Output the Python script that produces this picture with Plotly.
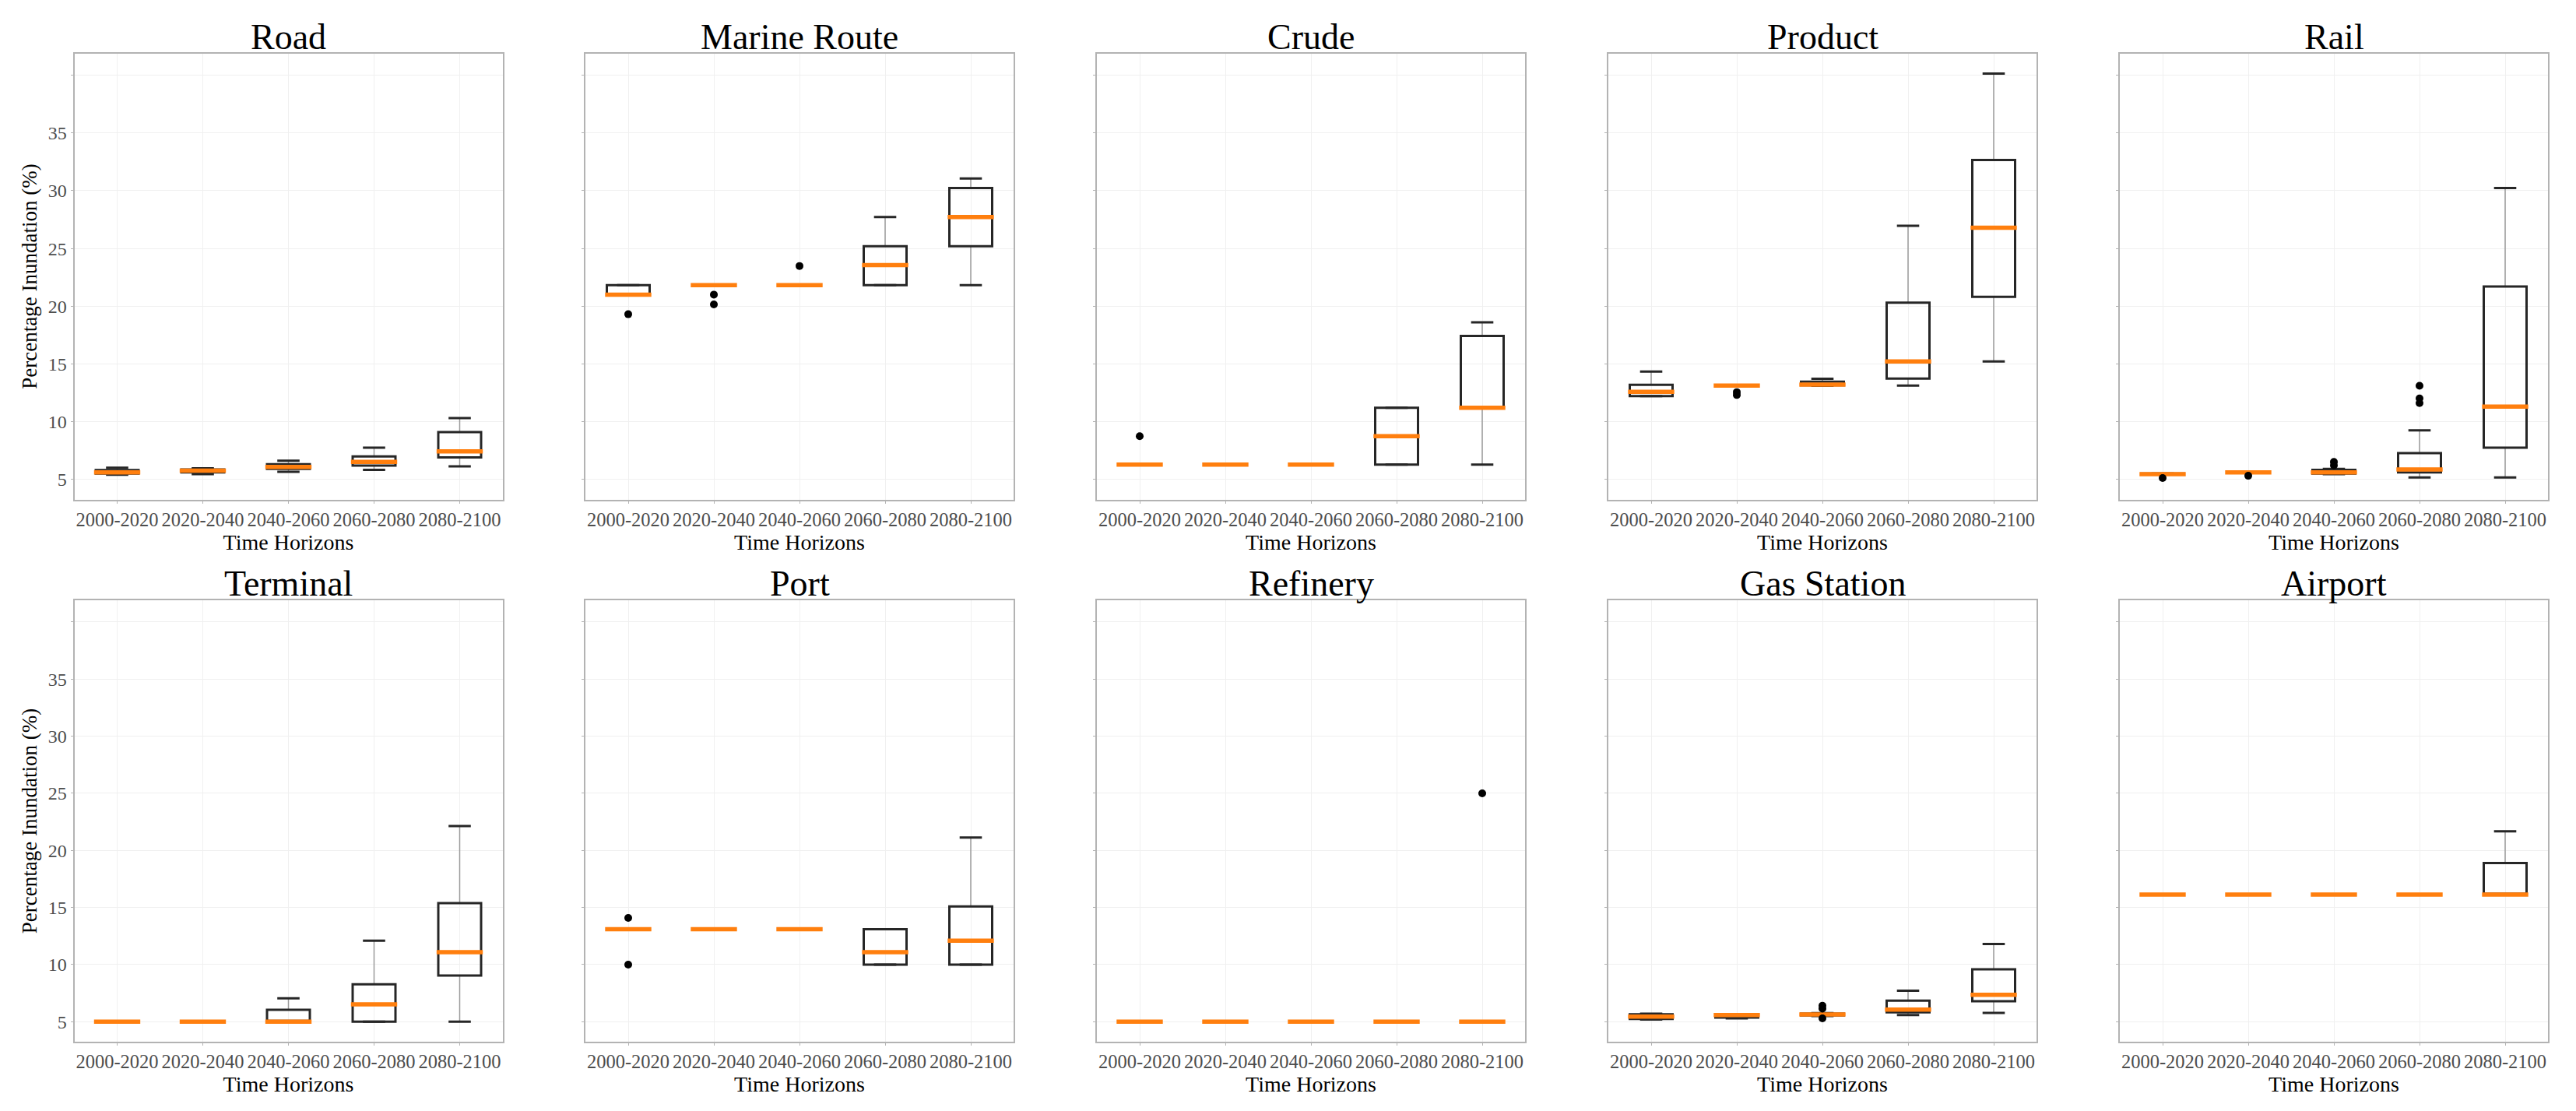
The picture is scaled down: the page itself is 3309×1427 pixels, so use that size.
import plotly.graph_objects as go

HORIZONS = ["2000-2020", "2020-2040", "2040-2060", "2060-2080", "2080-2100"]
PANELS = ["Road", "Marine Route", "Crude", "Product", "Rail",
          "Terminal", "Port", "Refinery", "Gas Station", "Airport"]
Y_TICKS = [5, 10, 15, 20, 25, 30, 35, 40]
Y_TICK_TEXT = ["5", "10", "15", "20", "25", "30", "35", ""]

# ---- Road
ROAD_LOW = [5.40, 5.45, 5.64, 5.82, 6.12]
ROAD_Q1 = [5.50, 5.60, 5.90, 6.18, 6.90]
ROAD_MED = [5.60, 5.75, 6.06, 6.50, 7.42]
ROAD_Q3 = [5.80, 5.85, 6.30, 6.97, 9.09]
ROAD_HIGH = [6.00, 5.95, 6.60, 7.73, 10.30]
ROAD_OUT_X = []
ROAD_OUT_Y = []

# ---- Marine Route
MARINE_LOW = [21.00, 21.82, 21.82, 21.82, 21.82]
MARINE_Q1 = [21.00, 21.82, 21.82, 21.82, 25.20]
MARINE_MED = [21.00, 21.82, 21.82, 23.55, 27.73]
MARINE_Q3 = [21.82, 21.82, 21.82, 25.20, 30.24]
MARINE_HIGH = [21.82, 21.82, 21.82, 27.73, 31.06]
MARINE_OUT_X = ["2000-2020", "2020-2040", "2020-2040", "2040-2060"]
MARINE_OUT_Y = [19.30, 21.00, 20.15, 23.48]

# ---- Crude
CRUDE_LOW = [6.27, 6.27, 6.27, 6.27, 6.27]
CRUDE_Q1 = [6.27, 6.27, 6.27, 6.27, 11.20]
CRUDE_MED = [6.27, 6.27, 6.27, 8.73, 11.20]
CRUDE_Q3 = [6.27, 6.27, 6.27, 11.20, 17.42]
CRUDE_HIGH = [6.27, 6.27, 6.27, 11.20, 18.60]
CRUDE_OUT_X = ["2000-2020"]
CRUDE_OUT_Y = [8.73]

# ---- Product
PRODUCT_LOW = [12.20, 13.12, 13.10, 13.12, 15.20]
PRODUCT_Q1 = [12.20, 13.12, 13.15, 13.73, 20.80]
PRODUCT_MED = [12.58, 13.12, 13.20, 15.20, 26.80]
PRODUCT_Q3 = [13.18, 13.12, 13.45, 20.30, 32.67]
PRODUCT_HIGH = [14.33, 13.12, 13.70, 26.97, 40.15]
PRODUCT_OUT_X = ["2020-2040", "2020-2040"]
PRODUCT_OUT_Y = [12.30, 12.55]

# ---- Rail
RAIL_LOW = [5.45, 5.60, 5.45, 5.15, 5.15]
RAIL_Q1 = [5.45, 5.60, 5.50, 5.60, 7.73]
RAIL_MED = [5.45, 5.60, 5.60, 5.85, 11.30]
RAIL_Q3 = [5.50, 5.60, 5.82, 7.27, 21.70]
RAIL_HIGH = [5.50, 5.60, 5.90, 9.24, 30.24]
RAIL_OUT_X = ["2000-2020", "2020-2040", "2040-2060", "2040-2060",
              "2060-2080", "2060-2080", "2060-2080"]
RAIL_OUT_Y = [5.10, 5.30, 6.20, 6.50, 11.60, 12.00, 13.10]

# ---- Terminal
TERMINAL_LOW = [5.00, 5.00, 5.00, 5.00, 5.00]
TERMINAL_Q1 = [5.00, 5.00, 5.00, 5.00, 9.04]
TERMINAL_MED = [5.00, 5.00, 5.00, 6.53, 11.09]
TERMINAL_Q3 = [5.00, 5.00, 6.04, 8.28, 15.38]
TERMINAL_HIGH = [5.00, 5.00, 7.05, 12.10, 22.14]
TERMINAL_OUT_X = []
TERMINAL_OUT_Y = []

# ---- Port
PORT_LOW = [13.10, 13.10, 13.10, 10.00, 10.00]
PORT_Q1 = [13.10, 13.10, 13.10, 10.00, 10.00]
PORT_MED = [13.10, 13.10, 13.10, 11.09, 12.10]
PORT_Q3 = [13.10, 13.10, 13.10, 13.10, 15.10]
PORT_HIGH = [13.10, 13.10, 13.10, 13.10, 21.13]
PORT_OUT_X = ["2000-2020", "2000-2020"]
PORT_OUT_Y = [14.09, 10.00]

# ---- Refinery
REFINERY_LOW = [5.00, 5.00, 5.00, 5.00, 5.00]
REFINERY_Q1 = [5.00, 5.00, 5.00, 5.00, 5.00]
REFINERY_MED = [5.00, 5.00, 5.00, 5.00, 5.00]
REFINERY_Q3 = [5.00, 5.00, 5.00, 5.00, 5.00]
REFINERY_HIGH = [5.00, 5.00, 5.00, 5.00, 5.00]
REFINERY_OUT_X = ["2080-2100"]
REFINERY_OUT_Y = [25.00]

# ---- Gas Station
GAS_LOW = [5.20, 5.30, 5.50, 5.58, 5.77]
GAS_Q1 = [5.25, 5.37, 5.55, 5.83, 6.80]
GAS_MED = [5.45, 5.58, 5.64, 6.07, 7.36]
GAS_Q3 = [5.65, 5.60, 5.70, 6.84, 9.59]
GAS_HIGH = [5.70, 5.65, 5.75, 7.72, 11.80]
GAS_OUT_X = ["2040-2060", "2040-2060", "2040-2060"]
GAS_OUT_Y = [6.40, 6.15, 5.30]

# ---- Airport
AIRPORT_LOW = [16.14, 16.14, 16.14, 16.14, 16.14]
AIRPORT_Q1 = [16.14, 16.14, 16.14, 16.14, 16.14]
AIRPORT_MED = [16.14, 16.14, 16.14, 16.14, 16.14]
AIRPORT_Q3 = [16.14, 16.14, 16.14, 16.14, 18.90]
AIRPORT_HIGH = [16.14, 16.14, 16.14, 16.14, 21.68]
AIRPORT_OUT_X = []
AIRPORT_OUT_Y = []

PANEL_DATA = [
    (ROAD_LOW, ROAD_Q1, ROAD_MED, ROAD_Q3, ROAD_HIGH, ROAD_OUT_X, ROAD_OUT_Y),
    (MARINE_LOW, MARINE_Q1, MARINE_MED, MARINE_Q3, MARINE_HIGH, MARINE_OUT_X, MARINE_OUT_Y),
    (CRUDE_LOW, CRUDE_Q1, CRUDE_MED, CRUDE_Q3, CRUDE_HIGH, CRUDE_OUT_X, CRUDE_OUT_Y),
    (PRODUCT_LOW, PRODUCT_Q1, PRODUCT_MED, PRODUCT_Q3, PRODUCT_HIGH, PRODUCT_OUT_X, PRODUCT_OUT_Y),
    (RAIL_LOW, RAIL_Q1, RAIL_MED, RAIL_Q3, RAIL_HIGH, RAIL_OUT_X, RAIL_OUT_Y),
    (TERMINAL_LOW, TERMINAL_Q1, TERMINAL_MED, TERMINAL_Q3, TERMINAL_HIGH, TERMINAL_OUT_X, TERMINAL_OUT_Y),
    (PORT_LOW, PORT_Q1, PORT_MED, PORT_Q3, PORT_HIGH, PORT_OUT_X, PORT_OUT_Y),
    (REFINERY_LOW, REFINERY_Q1, REFINERY_MED, REFINERY_Q3, REFINERY_HIGH, REFINERY_OUT_X, REFINERY_OUT_Y),
    (GAS_LOW, GAS_Q1, GAS_MED, GAS_Q3, GAS_HIGH, GAS_OUT_X, GAS_OUT_Y),
    (AIRPORT_LOW, AIRPORT_Q1, AIRPORT_MED, AIRPORT_Q3, AIRPORT_HIGH, AIRPORT_OUT_X, AIRPORT_OUT_Y),
]

# ---------------- layout geometry (pixels) ----------------
W, H = 3309, 1427
COL_LEFT = [87.5, 744, 1401, 2058, 2715]
PANEL_W = 550
ROW_TOP = [60.6, 763]
ROW_BOTTOM = [633.5, 1330]

FONT = "Liberation Serif, Times New Roman, serif"
BOX_LINE = "#262626"
WHISKER = "#9a9a9a"
ORANGE = "#ff7f0e"
BORDER = "#b3b3b3"
GRID = "#f0f0f0"

fig = go.Figure()
layout_axes = {}
annotations = []

for i, (low, q1, med, q3, high, out_x, out_y) in enumerate(PANEL_DATA):
    row, col = divmod(i, 5)
    sfx = "" if i == 0 else str(i + 1)
    xa, ya = "x" + sfx, "y" + sfx
    common = dict(xaxis=xa, yaxis=ya, showlegend=False, hoverinfo="skip",
                  boxpoints=False, fillcolor="rgba(0,0,0,0)")

    # whiskers (thin grey), no caps
    fig.add_trace(go.Box(x=HORIZONS, q1=q1, median=med, q3=q3,
                         lowerfence=low, upperfence=high, width=0.5,
                         whiskerwidth=0, line=dict(color=WHISKER, width=1.5),
                         **common))
    # box body (black)
    fig.add_trace(go.Box(x=HORIZONS, q1=q1, median=med, q3=q3,
                         lowerfence=q1, upperfence=q3, width=0.5,
                         whiskerwidth=0, line=dict(color=BOX_LINE, width=3),
                         **common))
    # whisker caps
    for fence in (high, low):
        fig.add_trace(go.Box(x=HORIZONS, q1=fence, median=fence, q3=fence,
                             lowerfence=fence, upperfence=fence, width=0.26,
                             whiskerwidth=0, line=dict(color=BOX_LINE, width=3),
                             **common))
    # median (orange)
    fig.add_trace(go.Box(x=HORIZONS, q1=med, median=med, q3=med,
                         lowerfence=med, upperfence=med, width=0.54,
                         whiskerwidth=0, line=dict(color=ORANGE, width=5.5),
                         **common))
    # outliers
    if out_x:
        fig.add_trace(go.Scatter(x=out_x, y=out_y, mode="markers",
                                 marker=dict(color="black", size=10),
                                 xaxis=xa, yaxis=ya, showlegend=False,
                                 hoverinfo="skip"))

    x0 = COL_LEFT[col] / W
    x1 = (COL_LEFT[col] + PANEL_W) / W
    y1 = 1 - ROW_TOP[row] / H
    y0 = 1 - ROW_BOTTOM[row] / H

    layout_axes["xaxis" + sfx] = dict(
        domain=[x0, x1], anchor=ya, type="category",
        categoryorder="array", categoryarray=HORIZONS,
        range=[-0.5, 4.5], showgrid=True, gridcolor=GRID, gridwidth=1,
        showline=True, mirror=True, linecolor=BORDER, linewidth=2,
        ticks="outside", ticklen=3, tickcolor=BORDER,
        tickfont=dict(family=FONT, size=24.5, color="#4d4d4d"),
        title=dict(text="Time Horizons", font=dict(family=FONT, size=28, color="black"),
                   standoff=0),
        zeroline=False, automargin=False, fixedrange=True,
    )
    layout_axes["yaxis" + sfx] = dict(
        domain=[y0, y1], anchor=xa, range=[3.25, 41.9],
        tickmode="array", tickvals=Y_TICKS, ticktext=Y_TICK_TEXT,
        showticklabels=(col == 0), showgrid=True, gridcolor=GRID, gridwidth=1,
        showline=True, mirror=True, linecolor=BORDER, linewidth=2,
        ticks="outside", ticklen=3, tickcolor=BORDER,
        tickfont=dict(family=FONT, size=24, color="#4d4d4d"),
        title=dict(text="Percentage Inundation (%)" if col == 0 else "",
                   font=dict(family=FONT, size=27, color="black"), standoff=6),
        zeroline=False, automargin=False, fixedrange=True,
    )
    annotations.append(dict(
        text=PANELS[i], x=(x0 + x1) / 2, y=y1, xref="paper", yref="paper",
        xanchor="center", yanchor="bottom", yshift=-6, showarrow=False,
        font=dict(family=FONT, size=46, color="black"),
    ))

fig.update_layout(
    width=W, height=H, margin=dict(l=0, r=0, t=0, b=0),
    paper_bgcolor="white", plot_bgcolor="white",
    boxmode="overlay", showlegend=False,
    font=dict(family=FONT, color="black"),
    annotations=annotations,
    **layout_axes,
)

fig.write_html("out.html")
